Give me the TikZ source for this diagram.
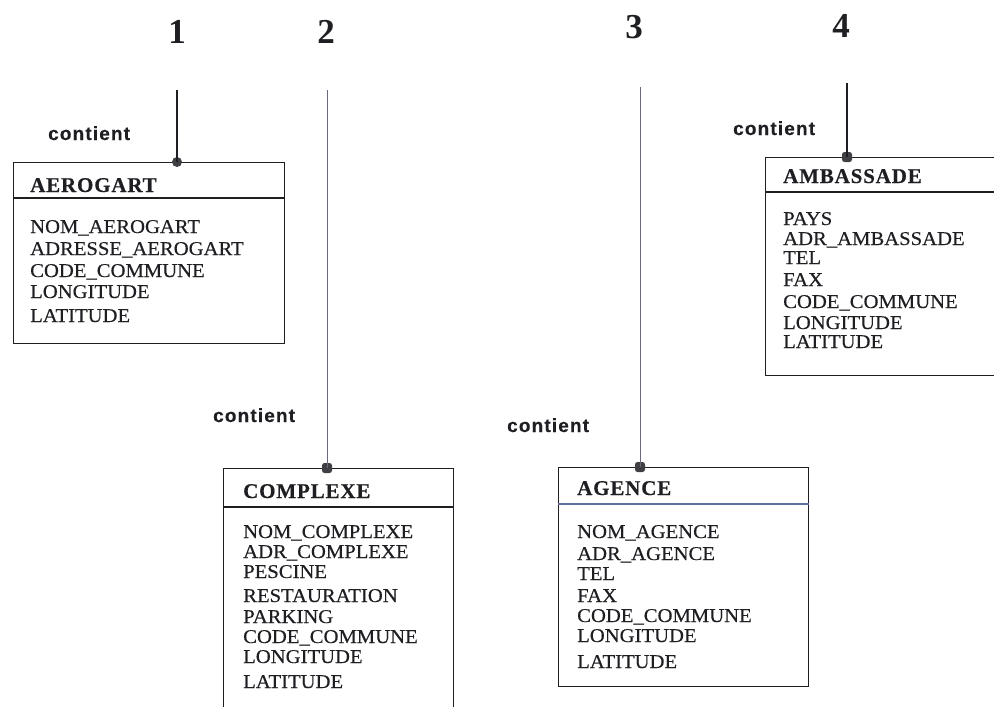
\documentclass[tikz,border=0pt]{standalone}
\usepackage{fontspec}
\setmainfont{Liberation Serif}
\newfontfamily\attrfont[FakeStretch=1.06,FakeBold=0.35]{Liberation Serif}
\newfontfamily\labfont[LetterSpace=6,FakeBold=0.3]{Liberation Sans}
\newfontfamily\ttlfont[LetterSpace=4,FakeBold=0.4]{Liberation Serif}
\definecolor{ink}{RGB}{30,30,35}
\definecolor{softink}{RGB}{105,105,125}
\definecolor{blueline}{RGB}{95,110,160}
\begin{document}
\begin{tikzpicture}[x=1pt,y=-1pt,
  entity/.style={draw=ink, line width=1.3pt, inner sep=0pt, anchor=north west},
  ttl/.style={anchor=base west, inner sep=0pt, text=ink, font=\ttlfont\bfseries\fontsize{21}{22}\selectfont},
  attr/.style={anchor=base west, inner sep=0pt, text=ink, font=\attrfont\fontsize{19.5}{20}\selectfont},
  rel/.style={anchor=base west, inner sep=0pt, text=ink, font=\labfont\bfseries\fontsize{19}{20}\selectfont},
  num/.style={anchor=base, inner sep=0pt, text=ink, font=\bfseries\fontsize{35}{36}\selectfont},
  dot/.style={circle, fill=ink!85, inner sep=0pt, minimum size=10pt},
  sqdot/.style={rectangle, rounded corners=2.5pt, fill=ink!85, inner sep=0pt, minimum size=10pt},
  link/.style={line width=1.2pt, draw=ink},
  softlink/.style={line width=1pt, draw=softink},
  sep/.style={line width=1.1pt, draw=ink}]
\clip (0,0) rectangle (994,707);
\fill[white] (0,0) rectangle (994,707);

% numbers
\node[num] (n1) at (177,43) {1};
\node[num] (n2) at (326,43) {2};
\node[num] (n3) at (634,38) {3};
\node[num] (n4) at (841,37) {4};

% ---------- AEROGART ----------
\node[entity, minimum width=271pt, minimum height=181pt] (aero) at (13,162) {};
\draw[sep] ([yshift=-36pt]aero.north west) -- ([yshift=-36pt]aero.north east);
\node[ttl] (aerot) at (30,192) {AEROGART};
\foreach \t/\y [count=\i] in {NOM\_AEROGART/233, ADRESSE\_AEROGART/255, CODE\_COMMUNE/277, LONGITUDE/298, LATITUDE/322}
  \node[attr] (aero-\i) at (30,\y) {\t};
\node[rel] (r1) at (48,140) {contient};
\coordinate (t1) at (177,90);
\node[dot] (d1) at (t1 |- aero.north) {};
\draw[link] (t1) -- (d1.center);

% ---------- COMPLEXE ----------
\node[entity, minimum width=230pt, minimum height=260pt] (comp) at (223,468) {};
\draw[sep] ([yshift=-39pt]comp.north west) -- ([yshift=-39pt]comp.north east);
\node[ttl] (compt) at (243,498) {COMPLEXE};
\foreach \t/\y [count=\i] in {NOM\_COMPLEXE/538, ADR\_COMPLEXE/558, PESCINE/578, RESTAURATION/602, PARKING/623, CODE\_COMMUNE/643, LONGITUDE/663, LATITUDE/688}
  \node[attr] (comp-\i) at (243,\y) {\t};
\node[rel] (r2) at (213,422) {contient};
\coordinate (t2) at (327,90);
\node[sqdot] (d2) at (t2 |- comp.north) {};
\draw[softlink] (t2) -- (d2.center);

% ---------- AGENCE ----------
\node[entity, minimum width=250pt, minimum height=219pt] (agen) at (558,467) {};
\draw[line width=1.1pt, draw=blueline] ([yshift=-37pt]agen.north west) -- ([yshift=-37pt]agen.north east);
\node[ttl] (agent) at (577,495) {AGENCE};
\foreach \t/\y [count=\i] in {NOM\_AGENCE/538, ADR\_AGENCE/560, TEL/580, FAX/602, CODE\_COMMUNE/622, LONGITUDE/642, LATITUDE/668}
  \node[attr] (agen-\i) at (577,\y) {\t};
\node[rel] (r3) at (507,432) {contient};
\coordinate (t3) at (640,87);
\node[sqdot] (d3) at (t3 |- agen.north) {};
\draw[softlink] (t3) -- (d3.center);

% ---------- AMBASSADE ----------
\node[entity, minimum width=250pt, minimum height=218pt] (amba) at (765,157) {};
\draw[sep] ([yshift=-35pt]amba.north west) -- ([yshift=-35pt]amba.north east);
\node[ttl] (ambat) at (783,183) {AMBASSADE};
\foreach \t/\y [count=\i] in {PAYS/225, ADR\_AMBASSADE/245, TEL/264, FAX/286, CODE\_COMMUNE/308, LONGITUDE/329, LATITUDE/348}
  \node[attr] (amba-\i) at (783,\y) {\t};
\node[rel] (r4) at (733,135) {contient};
\coordinate (t4) at (847,83);
\node[sqdot] (d4) at (t4 |- amba.north) {};
\draw[link] (t4) -- (d4.center);
\end{tikzpicture}
\end{document}
